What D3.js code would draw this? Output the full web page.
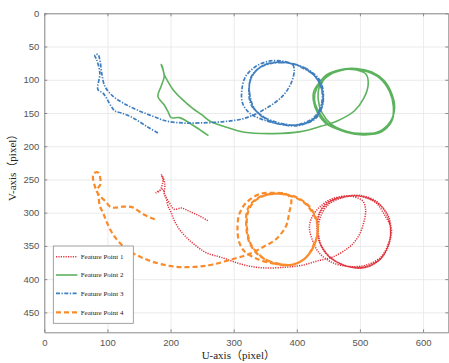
<!DOCTYPE html>
<html>
<head>
<meta charset="utf-8">
<script src="https://cdn.jsdelivr.net/npm/d3@7"></script>
<style>
    body { margin: 0; background: #fff; }
    #chart { width: 449px; height: 363px; }
    .tick text { font-family: "Liberation Sans", Arial, sans-serif; font-size: 9.5px; fill: #555; }
    .axis-label { font-family: "Liberation Serif", "Noto Sans CJK SC", serif; font-size: 11px; fill: #222; }
    .legend-text { font-family: "Liberation Serif", serif; font-size: 7px; fill: #222; }
</style>
</head>
<body>
<div id="chart"></div>
<script>

// axis ranges and tick labels
let xDomain = [0, 640];
let yDomain = [0, 480];
let xTicks = [0, 100, 200, 300, 400, 500, 600];
let yTicks = [0, 50, 100, 150, 200, 250, 300, 350, 400, 450];

let seriesNames = ["Feature Point 1", "Feature Point 2", "Feature Point 3", "Feature Point 4"];

// image coordinates [u, v]
let fp1 = [[259,312],[246,305],[230,298],[217,293],[206,295],[198,285],[191,273],[188,265],[177,270],[183,267],
    [188,250],[185,243],[188,247],[191,258],[190,272],[193,278],[196,290],[201,300],[206,312],[214,325],
    [225,337],[238,348],[256,360],[283,368],[314,378],[346,383],[383,382],[409,379],[435,372],[456,367],
    [483,352],[498,335],[506,315],[509,295],[504,282],[483,275],[456,279],[438,290],[425,305],[420,322],
    [425,342],[435,360],[456,375],[483,381],[509,379],[533,367],[546,345],[550,325],[540,305],[525,285],
    [499,275],[472,276],[448,285],[435,302],[433,325],[438,347],[453,367],[478,380],[506,383],[530,372],
    [544,350],[549,328],[545,305],[530,287],[505,276],[476,276],[452,284],[437,300],[432,322],[436,345],
    [450,365],[475,379],[504,383],[531,371],[546,348],[548,322],[541,300],[526,283],[500,274],[474,277],
    [451,287],[438,305],[434,328],[440,352],[456,370],[482,381],[510,381],[534,368],[547,343]];

let fp2 = [[260,184],[246,175],[230,165],[214,157],[201,157],[196,148],[190,138],[180,125],[185,110],[190,95],
    [188,85],[185,77],[187,80],[190,92],[196,103],[204,115],[219,130],[235,143],[250,153],[262,162],
    [284,170],[317,179],[364,181],[406,178],[438,170],[464,162],[491,147],[506,128],[513,108],[510,92],
    [493,85],[470,85],[448,92],[435,105],[427,117],[426,130],[433,150],[448,167],[475,177],[506,181],
    [533,178],[549,165],[554,142],[549,121],[536,101],[517,89],[495,84],[470,86],[448,95],[436,110],
    [434,130],[440,150],[455,167],[480,178],[508,182],[532,177],[548,163],[555,142],[550,120],[538,101],
    [518,88],[494,83],[468,85],[447,96],[432,112],[428,130],[436,150],[452,168],[478,179],[507,183],
    [535,178],[550,162],[553,140],[547,118],[533,99],[512,88],[488,84],[465,86],[445,97],[437,112]];

let fp3 = [[180,180],[162,170],[140,157],[122,150],[112,147],[106,140],[93,120],[85,115],[88,90],[83,70],
    [80,63],[85,62],[88,70],[91,90],[96,110],[109,125],[125,135],[146,145],[172,155],[193,162],
    [219,165],[246,165],[284,163],[317,158],[348,145],[377,125],[391,105],[396,85],[393,77],[377,72],
    [356,72],[335,80],[319,95],[313,115],[314,135],[325,150],[346,160],[377,167],[409,167],[430,158],
    [440,140],[441,120],[433,100],[414,83],[388,75],[362,75],[341,82],[327,97],[325,120],[330,140],
    [346,155],[372,165],[400,168],[425,160],[438,142],[442,120],[436,100],[418,85],[392,76],[366,74],
    [344,80],[329,95],[324,118],[328,138],[344,154],[370,166],[402,169],[428,158],[441,138],[440,115],
    [430,96],[410,82],[384,74],[358,75],[338,84],[326,102],[326,125],[334,145],[352,160],[380,168],
    [408,166],[430,154],[440,132],[438,110],[426,92],[404,80]];

let fp4 = [[175,310],[156,302],[140,292],[125,291],[106,292],[96,282],[88,275],[83,267],[89,257],[88,245],
    [86,240],[80,240],[77,245],[80,260],[85,272],[88,290],[93,300],[98,312],[106,328],[119,345],
    [135,358],[151,366],[172,374],[198,380],[219,382],[246,381],[267,378],[298,370],[325,362],[346,352],
    [367,340],[383,320],[388,300],[391,280],[383,272],[362,270],[341,272],[320,285],[309,302],[306,325],
    [309,345],[317,358],[338,370],[367,377],[393,378],[414,368],[429,345],[433,320],[425,300],[409,283],
    [383,273],[357,272],[335,280],[322,295],[320,320],[325,345],[341,365],[367,376],[395,378],[416,366],
    [430,343],[433,318],[424,296],[406,280],[380,272],[354,273],[334,282],[323,298],[321,322],[327,347],
    [344,366],[370,378],[398,377],[418,364],[430,340]];

class TrajectoryVis {

    constructor(parentElement, series) {
        this.parentElement = parentElement;
        this.series = series;
        this.initVis();
    }

    initVis() {
        let vis = this;

        vis.margin = {top: 13.3, right: 0.7, bottom: 30.7, left: 44.3};
        vis.width = 449 - vis.margin.left - vis.margin.right;
        vis.height = 363 - vis.margin.top - vis.margin.bottom;

        vis.svg = d3.select("#" + vis.parentElement)
            .append("svg")
            .attr("width", 449)
            .attr("height", 363)
            .append("g")
            .attr("transform", "translate(" + vis.margin.left + "," + vis.margin.top + ")");

        vis.x = d3.scaleLinear().domain(xDomain).range([0, vis.width]);
        // image rows grow downward
        vis.y = d3.scaleLinear().domain(yDomain).range([0, vis.height]);

        // grid
        vis.svg.append("g")
            .attr("class", "grid")
            .attr("transform", "translate(0," + vis.height + ")")
            .call(d3.axisBottom(vis.x).tickValues(xTicks).tickSize(-vis.height).tickFormat(""));
        vis.svg.append("g")
            .attr("class", "grid")
            .call(d3.axisLeft(vis.y).tickValues(yTicks).tickSize(-vis.width).tickFormat(""));
        vis.svg.selectAll(".grid line").style("stroke", "#e6e6e6").style("stroke-width", 0.8);
        vis.svg.selectAll(".grid .domain").remove();

        vis.updateVis();
        vis.drawAxes();
        vis.drawLegend();
    }

    updateVis() {
        let vis = this;

        let line = d3.line()
            .x(d => vis.x(d[0]))
            .y(d => vis.y(d[1]))
            .curve(d3.curveCatmullRom.alpha(0.5));

        vis.svg.selectAll(".traj")
            .data(vis.series)
            .enter().append("path")
            .attr("class", "traj")
            .attr("d", d => line(d.values))
            .style("fill", "none")
            .style("stroke", d => d.color)
            .style("stroke-width", d => d.width)
            .style("stroke-dasharray", d => d.dash)
            .style("stroke-linejoin", "round");
    }

    drawAxes() {
        let vis = this;

        vis.svg.append("g")
            .attr("class", "x-axis axis")
            .attr("transform", "translate(0," + vis.height + ")")
            .call(d3.axisBottom(vis.x).tickValues(xTicks).tickSizeInner(-3).tickSizeOuter(0).tickPadding(7));
        vis.svg.append("g")
            .attr("class", "y-axis axis")
            .call(d3.axisLeft(vis.y).tickValues(yTicks).tickSizeInner(-3).tickSizeOuter(0).tickPadding(5));
        vis.svg.append("g")
            .attr("class", "axis")
            .call(d3.axisTop(vis.x).tickValues(xTicks).tickSizeInner(-3).tickSizeOuter(0).tickFormat(""));
        vis.svg.append("g")
            .attr("class", "axis")
            .attr("transform", "translate(" + vis.width + ",0)")
            .call(d3.axisRight(vis.y).tickValues(yTicks).tickSizeInner(-3).tickSizeOuter(0).tickFormat(""));

        vis.svg.selectAll(".axis .domain").style("stroke", "#8a8a8a");
        vis.svg.selectAll(".axis line").style("stroke", "#8a8a8a");

        vis.svg.append("text")
            .attr("class", "axis-label")
            .attr("x", vis.width / 2 - 8)
            .attr("y", vis.height + 27)
            .attr("text-anchor", "middle")
            .text("U-axis（pixel）");

        vis.svg.append("text")
            .attr("class", "axis-label")
            .attr("transform", "translate(-28," + (vis.height / 2 - 8) + ") rotate(-90)")
            .attr("text-anchor", "middle")
            .text("V-axis（pixel）");
    }

    drawLegend() {
        let vis = this;

        let lg = vis.svg.append("g")
            .attr("transform", "translate(" + (53.3 - vis.margin.left) + "," + (246 - vis.margin.top) + ")");

        lg.append("rect")
            .attr("width", 80)
            .attr("height", 77.3)
            .style("fill", "#fff")
            .style("stroke", "#8a8a8a")
            .style("stroke-width", 0.8);

        let rows = lg.selectAll(".legend-row")
            .data(vis.series)
            .enter().append("g")
            .attr("class", "legend-row")
            .attr("transform", (d, i) => "translate(0," + [10.7, 29, 47.3, 66.3][i] + ")");

        rows.append("line")
            .attr("x1", 2.7)
            .attr("x2", 24)
            .style("stroke", d => d.color)
            .style("stroke-width", d => d.width)
            .style("stroke-dasharray", d => d.dash);

        rows.append("text")
            .attr("class", "legend-text")
            .attr("x", 27.4)
            .attr("dy", "0.33em")
            .text(d => d.name);
    }
}

let series = [
    {name: seriesNames[0], values: fp1, color: "#e0323c", width: 1.5, dash: "1.2,1.2"},
    {name: seriesNames[1], values: fp2, color: "#5db25d", width: 1.6, dash: null},
    {name: seriesNames[2], values: fp3, color: "#3f7fbf", width: 1.7, dash: "4,1.5,1.3,1.5"},
    {name: seriesNames[3], values: fp4, color: "#f98b2b", width: 2.2, dash: "5,3"}
];

new TrajectoryVis("chart", series);

</script>
</body>
</html>
